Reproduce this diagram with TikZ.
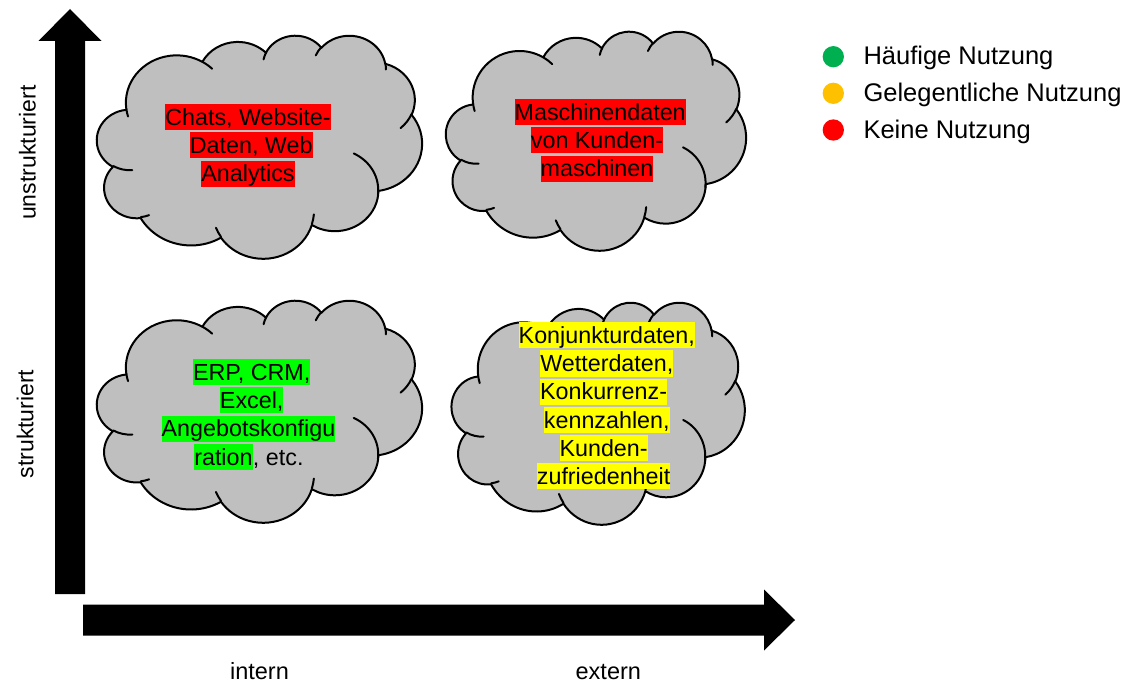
\documentclass[tikz,border=0pt]{standalone}
\usepackage{fontspec}
\usetikzlibrary{calc}
\setmainfont{Liberation Sans}[Ligatures=NoCommon]
\definecolor{cloudgray}{RGB}{191,191,191}
\definecolor{hlred}{RGB}{255,0,0}
\definecolor{hlgreen}{RGB}{0,255,0}
\definecolor{hlyellow}{RGB}{255,255,0}
\definecolor{leggreen}{RGB}{0,176,80}
\definecolor{legorange}{RGB}{255,192,0}
\definecolor{legred}{RGB}{255,0,0}

% Elliptical arc given like a DrawingML arcTo: radii, start angle and sweep as
% "visual" angles; converted here to the parametric angles TikZ expects.
\tikzset{
  ooarc/.style n args={4}{insert path={arc[x radius=#1, y radius=#2,
      start angle={atan2((#1)*sin(#3),(#2)*cos(#3))},
      delta angle={mod(atan2((#1)*sin((#3)+(#4)),(#2)*cos((#3)+(#4)))-atan2((#1)*sin(#3),(#2)*cos(#3))+720,360)}]}},
  cloudbody/.style={fill=cloudgray, draw=black, line width=2pt, line join=round},
  cloudcrease/.style={draw=black, line width=2pt, line cap=round},
  cloudtxt/.style={font=\fontsize{23.3}{28.3}\selectfont, inner xsep=0pt, inner ysep=0pt,
      text height=21.1pt, text depth=4.9pt, anchor=base},
  hl/.style={cloudtxt, fill=#1},
  legdot/.style={circle, fill=#1, minimum size=21.3pt, inner sep=0pt},
  legtxt/.style={font=\fontsize{25.5}{30}\selectfont, inner sep=0pt, anchor=base west},
  axislabel/.style={font=\fontsize{23.5}{28}\selectfont, inner sep=0pt, anchor=base},
}

% Cloud outline on a 43.2 x 43.2 grid, placed in the box (x0,y0) w x h
\newcommand\pptcloud[5]{%
  \begin{scope}[shift={(#2,#3)}, x=1cm, y=1cm,
      xscale={#4/43.2/28.45274}, yscale={-#5/43.2/28.45274}]
    \coordinate (#1) at (21.6,21.6);
    \path[cloudbody] (3.900,14.370)
      [ooarc={6.753}{9.190}{-190.48748}{123.78053}]
      [ooarc={5.333}{7.267}{-144.10238}{89.94523}]
      [ooarc={4.365}{5.945}{-145.80792}{99.72302}]
      [ooarc={4.857}{6.595}{-130.98607}{117.24173}]
      [ooarc={5.333}{7.273}{-78.70888}{109.02692}]
      [ooarc={6.775}{9.220}{-46.26725}{130.26900}]
      [ooarc={5.785}{7.867}{0.62502}{114.03333}]
      [ooarc={6.752}{9.215}{22.45160}{115.17255}]
      [ooarc={7.720}{10.543}{66.24263}{75.71102}]
      [ooarc={4.360}{5.918}{-274.94208}{146.73557}]
      [ooarc={4.345}{5.945}{-246.82850}{152.51885}]
      -- cycle;
    \path[cloudcrease]
      (4.693,26.177) [ooarc={4.345}{5.945}{86.74200}{26.42950}]
      (6.928,34.899) [ooarc={4.360}{5.918}{73.61047}{11.44747}]
      (16.478,39.090) [ooarc={6.752}{9.215}{137.62415}{14.08110}]
      (28.827,34.751) [ooarc={6.752}{9.215}{6.45327}{15.99835}]
      (34.129,22.954) [ooarc={5.785}{7.867}{-70.29235}{78.76947}]
      (41.798,15.354) [ooarc={5.333}{7.273}{30.31803}{27.75150}]
      (38.324,5.426) [ooarc={4.857}{6.595}{-13.74433}{14.85890}]
      (29.078,3.952) [ooarc={4.857}{6.595}{-149.18145}{18.19537}]
      (22.141,4.720) [ooarc={4.365}{5.945}{-163.49427}{17.68635}]
      (14.000,5.192) [ooarc={6.753}{9.190}{-66.70695}{12.31935}]
      (4.127,15.789) [ooarc={6.753}{9.190}{157.65435}{11.85817}];
  \end{scope}}

\begin{document}
\begin{tikzpicture}[x=1pt, y=-1pt]
  \useasboundingbox (0,0) rectangle (1132,684);

  % axes as block arrows
  \coordinate (ybase) at (70,594);
  \coordinate (ytip) at (70,9);
  \coordinate (xbase) at (83,620);
  \coordinate (xtip) at (795,620);
  \fill[black] ($(ybase)+(-15,0)$) -- (55,41) -- (38.5,41) -- (ytip) -- (101.5,41)
    -- (85,41) -- ($(ybase)+(15,0)$) -- cycle;
  \fill[black] ($(xbase)+(0,-15.5)$) -- (764,604.5) -- (764,589.5) -- (xtip)
    -- (764,650.5) -- (764,635.5) -- ($(xbase)+(0,15.5)$) -- cycle;

  % axis labels
  \node[axislabel] (lint) at (259.5,679.3) {intern};
  \node[axislabel] (lext) at (608.3,679.3) {extern};
  \node[axislabel, font=\fontsize{23}{27}\selectfont, rotate=90] (lunstr) at (35.5,152.7) {unstrukturiert};
  \node[axislabel, font=\fontsize{23}{27}\selectfont, rotate=90] (lstr) at (33.3,424) {strukturiert};

  % the four clouds
  \pptcloud{cTL}{97}{35}{325}{223}
  \pptcloud{cTR}{446}{31}{300}{219}
  \pptcloud{cBL}{97}{300}{325}{222}
  \pptcloud{cBR}{451.7}{302}{293}{222}

  % internal, unstructured
  \node[hl=hlred] (tl1) at (248,125.1) {Chats, Website-};
  \node[hl=hlred] (tl2) at (251.2,153.4) {Daten, Web\ };
  \node[hl=hlred] (tl3) at (248,181.7) {Analytics};

  % external, unstructured
  \node[hl=hlred] (tr1) at (600.2,120.1) {Maschinendaten\ };
  \node[hl=hlred] (tr2) at (597,148.4) {von Kunden-};
  \node[hl=hlred] (tr3) at (597,176.7) {maschinen};

  % internal, structured
  \node[hl=hlgreen] (bl1) at (251.7,380.1) {ERP, CRM,\ };
  \node[hl=hlgreen] (bl2) at (251.7,408.4) {Excel,\ };
  \node[hl=hlgreen] (bl3) at (248.5,436.7) {Angebotskonfigu};
  \node[hl=hlgreen, anchor=base west] (bl4) at (194.1,465) {ration};
  \node[cloudtxt, anchor=base west] (bl5) at (bl4.base east) {, etc.};

  % external, structured
  \node[hl=hlyellow] (br1) at (606.8,343.4) {Konjunkturdaten,\ };
  \node[hl=hlyellow] (br2) at (606.8,371.6) {Wetterdaten,\ };
  \node[hl=hlyellow] (br3) at (603.6,399.8) {Konkurrenz-};
  \node[hl=hlyellow] (br4) at (606.8,428.0) {kennzahlen,\ };
  \node[hl=hlyellow] (br5) at (603.6,456.2) {Kunden-};
  \node[hl=hlyellow] (br6) at (603.6,484.4) {zufriedenheit};

  % legend
  \node[legdot=leggreen] (d1) at (833.3,56.7) {};
  \node[legdot=legorange] (d2) at (833.3,93.3) {};
  \node[legdot=legred] (d3) at (833.3,130) {};
  \node[legtxt] (k1) at (863.3,65) {Häufige Nutzung};
  \node[legtxt] (k2) at (863.3,101.7) {Gelegentliche Nutzung};
  \node[legtxt] (k3) at (863.3,138.3) {Keine Nutzung};
\end{tikzpicture}
\end{document}
